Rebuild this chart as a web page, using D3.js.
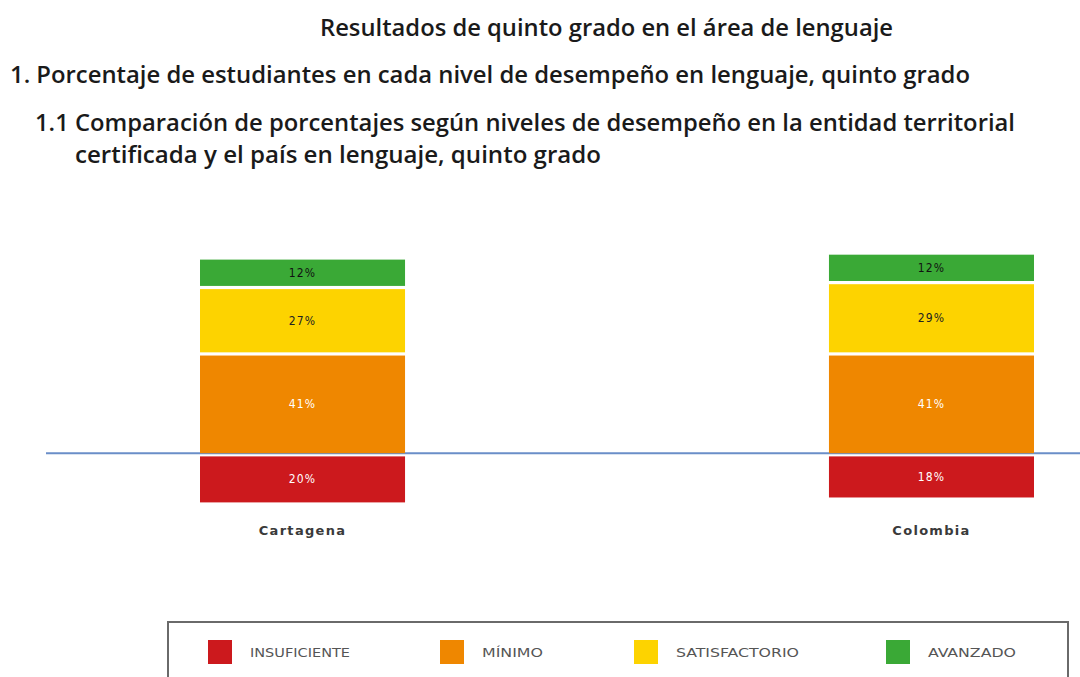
<!DOCTYPE html>
<html>
<head>
<meta charset="utf-8">
<script src="https://cdn.jsdelivr.net/npm/d3@7"></script>
<style>
  html, body { margin: 0; padding: 0; background: #ffffff; }
  svg { display: block; }
</style>
</head>
<body>
<div id="chart"></div>
<script>
// Chart data
const categories = ['Cartagena', 'Colombia'];
const levels = ['INSUFICIENTE', 'MÍNIMO', 'SATISFACTORIO', 'AVANZADO'];
const insuficiente = [20, 18];
const minimo = [41, 41];
const satisfactorio = [27, 29];
const avanzado = [12, 12];
const levelColors = ['#cc191d', '#ef8700', '#fdd300', '#3aa936'];
const labelColors = ['#ffffff', '#ffffff', '#222222', '#111111'];

const width = 1080;
const height = 677;

const svg = d3.select('#chart')
    .append('svg')
    .attr('width', width)
    .attr('height', height);

// Headings
const headings = [
    { text: 'Resultados de quinto grado en el área de lenguaje', x: 320, y: 36, len: 573 },
    { text: '1. Porcentaje de estudiantes en cada nivel de desempeño en lenguaje, quinto grado', x: 10, y: 83, len: 960 },
    { text: '1.1 Comparación de porcentajes según niveles de desempeño en la entidad territorial', x: 35, y: 131, len: 980 },
    { text: 'certificada y el país en lenguaje, quinto grado', x: 75, y: 163, len: 526 }
];

svg.selectAll('.heading')
    .data(headings)
    .enter()
    .append('text')
    .attr('class', 'heading')
    .attr('x', d => d.x)
    .attr('y', d => d.y)
    .attr('textLength', d => d.len)
    .attr('lengthAdjust', 'spacingAndGlyphs')
    .attr('font-family', '"Open Sans", sans-serif')
    .attr('font-weight', 600)
    .attr('font-size', 24)
    .attr('fill', '#1a1a1a')
    .text(d => d.text);

// Scales
const x = d3.scaleBand()
    .domain(categories)
    .range([200, 1034])
    .paddingInner(0.674)
    .paddingOuter(0);

const y = d3.scaleLinear()
    .domain([-20, 80])
    .range([504, 258]);

// Stack the series: insuficiente below zero, the rest above
const segments = [];
categories.forEach((cat, i) => {
    segments.push({ cat, level: 0, value: insuficiente[i], y0: -insuficiente[i], y1: 0 });
    let base = 0;
    [minimo, satisfactorio, avanzado].forEach((series, k) => {
        segments.push({ cat, level: k + 1, value: series[i], y0: base, y1: base + series[i] });
        base += series[i];
    });
});

const gap = 1.6;

// Zero line
svg.append('line')
    .attr('x1', 46)
    .attr('x2', width)
    .attr('y1', y(0) - 1.5)
    .attr('y2', y(0) - 1.5)
    .attr('stroke', '#6a8ec8')
    .attr('stroke-width', 2);

svg.selectAll('.seg')
    .data(segments)
    .enter()
    .append('rect')
    .attr('class', 'seg')
    .attr('x', d => x(d.cat))
    .attr('width', x.bandwidth())
    .attr('y', d => y(d.y1) + gap)
    .attr('height', d => y(d.y0) - y(d.y1) - 2 * gap)
    .attr('fill', d => levelColors[d.level]);

svg.selectAll('.seg-label')
    .data(segments)
    .enter()
    .append('text')
    .attr('class', 'seg-label')
    .attr('x', d => x(d.cat) + x.bandwidth() / 2)
    .attr('y', d => (y(d.y0) + y(d.y1)) / 2 + 4)
    .attr('text-anchor', 'middle')
    .attr('font-family', '"DejaVu Sans Condensed", "DejaVu Sans", sans-serif')
    .attr('font-size', 12)
    .attr('letter-spacing', 1.2)
    .attr('fill', d => labelColors[d.level])
    .text(d => d.value + '%');

// Category axis
const xAxis = svg.append('g')
    .attr('transform', 'translate(0,531)')
    .call(d3.axisBottom(x).tickSize(0).tickPadding(0));
xAxis.select('.domain').remove();
xAxis.selectAll('text')
    .attr('font-family', '"DejaVu Sans", sans-serif')
    .attr('font-size', 13)
    .attr('font-weight', 600)
    .attr('letter-spacing', 1.3)
    .attr('fill', '#3a3a3a')
    .attr('dy', '0.32em');

// Legend
const legend = svg.append('g');
legend.append('rect')
    .attr('x', 168)
    .attr('y', 622)
    .attr('width', 900)
    .attr('height', 70)
    .attr('fill', '#ffffff')
    .attr('stroke', '#6a6a6a')
    .attr('stroke-width', 2);

const legendX = [208, 440, 634, 886];
const legendLen = [100, 61, 123, 88];
const items = legend.selectAll('.item')
    .data(levels)
    .enter()
    .append('g')
    .attr('transform', (d, i) => `translate(${legendX[i]},640)`);

items.append('rect')
    .attr('width', 24)
    .attr('height', 24)
    .attr('fill', (d, i) => levelColors[i]);

items.append('text')
    .attr('x', 42)
    .attr('y', 17)
    .attr('textLength', (d, i) => legendLen[i])
    .attr('lengthAdjust', 'spacingAndGlyphs')
    .attr('font-family', '"DejaVu Sans Condensed", "DejaVu Sans", sans-serif')
    .attr('font-size', 13)
    .attr('fill', '#555555')
    .text(d => d);
</script>
</body>
</html>
